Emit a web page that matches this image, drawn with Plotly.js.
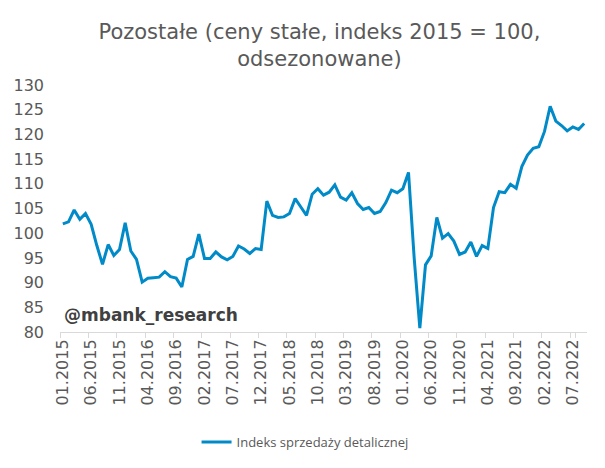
<!DOCTYPE html>
<html>
<head>
<meta charset="utf-8">
<script src="https://cdn.plot.ly/plotly-3.0.1.min.js"></script>
<style>
  html, body { margin: 0; padding: 0; background: #fff; }
  #chart { width: 605px; height: 468px; }
</style>
</head>
<body>
<div id="chart"></div>
<script>
// Pozostale - retail sales index (constant prices, 2015 = 100, s.a.)
// monthly from 01.2015 to 09.2022

let start_year = 2015;

let sales_index = [
  101.9, 102.3, 104.7, 102.8, 104.0, 101.8, 97.5, 93.7, 97.7, 95.5, 96.7, 102.1,
  96.4, 94.7, 90.1, 90.9, 91.0, 91.1, 92.2, 91.2, 90.9, 89.1, 94.7, 95.3,
  99.8, 94.9, 94.9, 96.2, 95.2, 94.6, 95.3, 97.4, 96.8, 95.9, 96.9, 96.7,
  106.5, 103.6, 103.2, 103.3, 104.0, 107.0, 105.3, 103.6, 107.9, 109.0, 107.7, 108.3,
  109.8, 107.3, 106.7, 108.2, 106.0, 104.8, 105.2, 104.0, 104.4, 106.2, 108.7, 108.2,
  109.0, 112.3, 95.0, 80.8, 93.6, 95.4, 103.2, 99.0, 99.9, 98.4, 95.7, 96.2,
  98.2, 95.3, 97.5, 96.9, 105.2, 108.4, 108.2, 109.9, 109.1, 113.5, 115.8, 117.2,
  117.5, 120.6, 125.7, 122.7, 121.8, 120.7, 121.5, 121.0, 122.2
];

// month labels like 01.2015
let months = sales_index.map(function (v, i) {
  let m = (i % 12) + 1;
  let y = start_year + Math.floor(i / 12);
  return (m < 10 ? '0' + m : '' + m) + '.' + y;
});

// every 5th month gets a label
let tick_labels = months.filter(function (m, i) { return i % 5 === 0; });

let verdana = "'DejaVu Sans', Verdana, sans-serif";

var trace1 = {
  x: months,
  y: sales_index,
  name: 'Indeks sprzedaży detalicznej',
  type: 'scatter',
  mode: 'lines',
  line: {color: 'rgb(0, 138, 200)', width: 3}
};

var layout = {
  width: 605,
  height: 468,
  margin: {l: 60, r: 18, t: 85, b: 135},
  paper_bgcolor: '#fff',
  plot_bgcolor: '#fff',
  font: {family: verdana, color: '#595959'},
  title: {
    text: 'Pozostałe (ceny stałe, indeks 2015 = 100,<br>odsezonowane)',
    font: {family: verdana, size: 21, color: '#595959'},
    x: 0.528, xanchor: 'center',
    y: 0.917, yanchor: 'middle'
  },
  xaxis: {
    type: 'category',
    tickmode: 'array',
    tickvals: tick_labels,
    ticktext: tick_labels,
    tickangle: -90,
    tickson: 'boundaries',
    ticks: 'outside',
    ticklen: 5,
    tickcolor: '#d9d9d9',
    showline: true,
    linecolor: '#d9d9d9',
    linewidth: 1,
    showgrid: false,
    zeroline: false,
    tickfont: {family: verdana, size: 16, color: '#595959'},
    range: [-0.5, sales_index.length - 0.5]
  },
  yaxis: {
    range: [80, 130],
    dtick: 5,
    showgrid: false,
    zeroline: false,
    showline: false,
    ticks: '',
    ticklabelstandoff: 15,
    tickfont: {family: verdana, size: 16, color: '#595959'}
  },
  showlegend: true,
  legend: {
    orientation: 'h',
    x: 0.465, xanchor: 'center',
    y: -0.44, yanchor: 'middle',
    font: {family: "'Open Sans', sans-serif", size: 13, color: '#595959'}
  },
  annotations: [{
    text: '<b>@mbank_research</b>',
    xref: 'paper', yref: 'paper',
    x: 0.003, xanchor: 'left',
    y: 0.069, yanchor: 'middle',
    showarrow: false,
    font: {family: verdana, size: 17, color: '#404040'}
  }]
};

Plotly.newPlot('chart', [trace1], layout, {displayModeBar: false});
</script>
</body>
</html>
